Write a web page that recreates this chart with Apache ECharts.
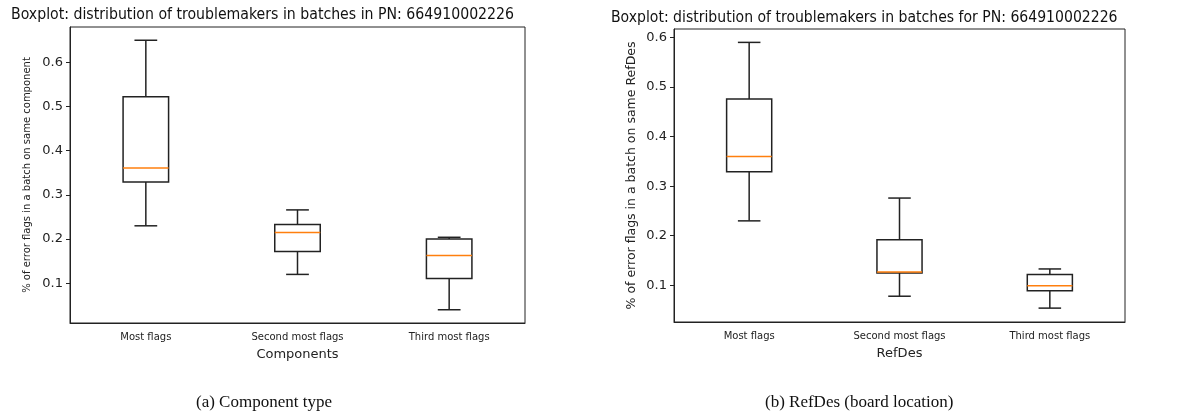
<!DOCTYPE html>
<html>
<head>
<meta charset="utf-8">
<script src="https://cdn.jsdelivr.net/npm/echarts@6/dist/echarts.min.js"></script>
<style>
  html, body { margin: 0; padding: 0; background: #fff; }
  #main { width: 1200px; height: 415px; }
</style>
</head>
<body>
<div id="main"></div>
<script>
// categories
var categories = ['Most flags', 'Second most flags', 'Third most flags'];

// box stats per category: [low whisker, Q1, median, Q3, high whisker]
// (a) component type
var statsA = [
  [0.230, 0.329, 0.361, 0.522, 0.650],
  [0.120, 0.172, 0.215, 0.233, 0.266],
  [0.040, 0.111, 0.163, 0.200, 0.204]
];
// (b) RefDes
var statsB = [
  [0.230, 0.329, 0.360, 0.476, 0.590],
  [0.078, 0.125, 0.127, 0.192, 0.276],
  [0.054, 0.089, 0.099, 0.122, 0.133]
];

// y tick labels
var yTicks = [0.1, 0.2, 0.3, 0.4, 0.5, 0.6];

var lineColor = '#222';
var medianColor = '#ff7f0e';

// matplotlib style box: caps half as wide as the box, orange median
function renderBox(params, api) {
  var x = api.value(0);
  var low = api.coord([x, api.value(1)]);
  var q1 = api.coord([x, api.value(2)]);
  var med = api.coord([x, api.value(3)]);
  var q3 = api.coord([x, api.value(4)]);
  var high = api.coord([x, api.value(5)]);
  var band = api.size([1, 0])[0];
  var hw = band * 0.15;
  var cw = hw / 2;
  var cx = low[0];
  var st = { stroke: lineColor, lineWidth: 1.5, fill: null };
  return {
    type: 'group',
    children: [
      { type: 'line', shape: { x1: cx, y1: q1[1], x2: cx, y2: low[1] }, style: st },
      { type: 'line', shape: { x1: cx, y1: q3[1], x2: cx, y2: high[1] }, style: st },
      { type: 'line', shape: { x1: cx - cw, y1: low[1], x2: cx + cw, y2: low[1] }, style: st },
      { type: 'line', shape: { x1: cx - cw, y1: high[1], x2: cx + cw, y2: high[1] }, style: st },
      { type: 'rect', shape: { x: cx - hw, y: q3[1], width: hw * 2, height: q1[1] - q3[1] }, style: st },
      { type: 'line', shape: { x1: cx - hw, y1: med[1], x2: cx + hw, y2: med[1] },
        style: { stroke: medianColor, lineWidth: 1.5 } }
    ]
  };
}

function toData(stats) {
  return stats.map(function (s, i) { return [i].concat(s); });
}

function xAxisFor(idx, name) {
  return {
    type: 'category',
    gridIndex: idx,
    data: categories,
    name: name,
    nameLocation: 'middle',
    nameGap: 25,
    nameTextStyle: { fontFamily: 'DejaVu Sans', fontSize: 13, color: '#222' },
    axisLine: { lineStyle: { color: lineColor, width: 1 } },
    axisTick: { alignWithLabel: true, length: 4, lineStyle: { color: lineColor } },
    axisLabel: { fontFamily: 'DejaVu Sans', fontSize: 10, color: '#222', margin: 9 }
  };
}

function yAxisFor(idx, min, max, name, nameSize) {
  return {
    type: 'value',
    gridIndex: idx,
    min: min,
    max: max,
    name: name,
    nameLocation: 'middle',
    nameRotate: 90,
    nameGap: idx === 0 ? 38 : 36,
    nameTextStyle: { fontFamily: 'DejaVu Sans', fontSize: nameSize, color: '#222' },
    axisLine: { show: true, lineStyle: { color: lineColor, width: 1 } },
    axisTick: { show: true, length: 4, customValues: yTicks, lineStyle: { color: lineColor } },
    axisLabel: {
      customValues: yTicks,
      fontFamily: 'DejaVu Sans', fontSize: 13, color: '#222', margin: 7,
      formatter: function (v) { return v.toFixed(1); }
    },
    splitLine: { show: false }
  };
}

var chart = echarts.init(document.getElementById('main'));
var option = {
  animation: false,
  backgroundColor: '#fff',
  title: [
    {
      text: 'Boxplot: distribution of troublemakers in batches in PN: 664910002226',
      left: 6, top: 2,
      textStyle: { fontFamily: 'DejaVu Sans Condensed', fontSize: 15.7, fontWeight: 'normal', color: '#111' }
    },
    {
      text: 'Boxplot: distribution of troublemakers in batches for PN: 664910002226',
      left: 606, top: 5,
      textStyle: { fontFamily: 'DejaVu Sans Condensed', fontSize: 15.6, fontWeight: 'normal', color: '#111' }
    }
  ],
  grid: [
    { left: 70, top: 27, width: 455, height: 296, show: true, borderColor: lineColor, borderWidth: 1 },
    { left: 674, top: 29, width: 451, height: 293, show: true, borderColor: lineColor, borderWidth: 1 }
  ],
  xAxis: [xAxisFor(0, 'Components'), xAxisFor(1, 'RefDes')],
  yAxis: [
    yAxisFor(0, 0.01, 0.68, '% of error flags in a batch on same component', 10),
    yAxisFor(1, 0.026, 0.617, '% of error flags in a batch on same RefDes', 12.5)
  ],
  series: [
    { type: 'custom', xAxisIndex: 0, yAxisIndex: 0, renderItem: renderBox,
      encode: { x: 0, y: [1, 2, 3, 4, 5] }, data: toData(statsA) },
    { type: 'custom', xAxisIndex: 1, yAxisIndex: 1, renderItem: renderBox,
      encode: { x: 0, y: [1, 2, 3, 4, 5] }, data: toData(statsB) }
  ],
  graphic: [
    { type: 'text', left: 196, top: 394,
      style: { text: '(a) Component type', font: '17px "Liberation Serif"', fill: '#111' } },
    { type: 'text', left: 765, top: 394,
      style: { text: '(b) RefDes (board location)', font: '17px "Liberation Serif"', fill: '#111' } }
  ]
};
chart.setOption(option);
</script>
</body>
</html>
